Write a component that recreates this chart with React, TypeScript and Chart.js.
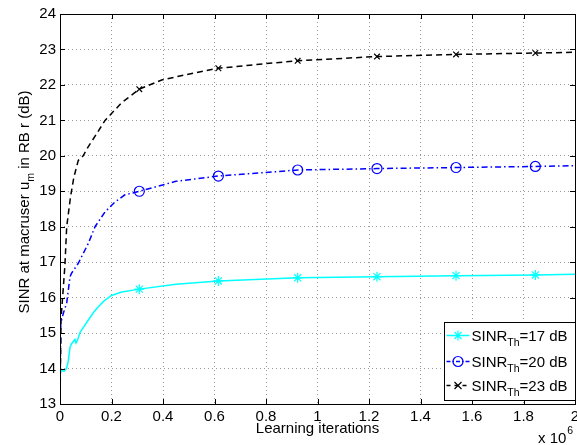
import React, { useEffect, useRef } from "react";
import { Chart, registerables } from "chart.js";

Chart.register(...registerables);

// ---- Data ----
const markerX = [0.308, 0.615, 0.923, 1.231, 1.538, 1.846];

const cyanX = [0, 0.005, 0.015, 0.025, 0.032, 0.039, 0.045, 0.058, 0.062, 0.068, 0.078, 0.11, 0.13, 0.149, 0.17, 0.2, 0.24, 0.308, 0.45, 0.615, 0.923, 1.231, 1.538, 1.846, 2.0];
const cyanY = [13.85, 13.95, 13.92, 14.0, 14.2, 14.6, 14.7, 14.82, 14.72, 14.8, 15.02, 15.37, 15.58, 15.74, 15.9, 16.06, 16.16, 16.24, 16.38, 16.47, 16.56, 16.59, 16.62, 16.64, 16.66];

const blueX = [0, 0.002, 0.003, 0.013, 0.026, 0.039, 0.045, 0.071, 0.11, 0.136, 0.175, 0.214, 0.252, 0.308, 0.45, 0.615, 0.923, 1.231, 1.538, 1.846, 2.0];
const blueY = [13.2, 14.6, 15.28, 15.56, 15.85, 16.59, 16.69, 16.97, 17.53, 18.0, 18.42, 18.7, 18.9, 19.0, 19.28, 19.43, 19.6, 19.64, 19.67, 19.7, 19.72];

const blackX = [0, 0.004, 0.019, 0.026, 0.041, 0.054, 0.071, 0.09, 0.11, 0.143, 0.175, 0.24, 0.308, 0.395, 0.563, 0.615, 0.8, 0.923, 1.1, 1.231, 1.538, 1.846, 2.0];
const blackY = [13.0, 15.4, 16.9, 18.0, 18.85, 19.4, 19.87, 20.0, 20.26, 20.63, 21.0, 21.5, 21.88, 22.14, 22.4, 22.47, 22.6, 22.68, 22.75, 22.8, 22.86, 22.9, 22.92];

const thresholds = ["17", "20", "23"];
const xTickValues = [0, 0.2, 0.4, 0.6, 0.8, 1, 1.2, 1.4, 1.6, 1.8, 2];
const yTickValues = [13, 14, 15, 16, 17, 18, 19, 20, 21, 22, 23, 24];

const FONT = "'Liberation Sans', Arial, Helvetica, sans-serif";

const seriesStyles = [
  { color: "#00ffff", dash: [] as number[], marker: "star" },
  { color: "#0000ff", dash: [6, 3, 1.5, 3], marker: "circle" },
  { color: "#000000", dash: [6, 4], marker: "crossRot" },
];

const isMarker = (x: number) => markerX.some((m) => Math.abs(m - x) < 1e-6);

function drawMarker(ctx: CanvasRenderingContext2D, kind: string, x: number, y: number, color: string) {
  ctx.save();
  ctx.strokeStyle = color;
  ctx.lineWidth = 1.2;
  ctx.setLineDash([]);
  ctx.beginPath();
  if (kind === "circle") {
    ctx.arc(x, y, 5, 0, Math.PI * 2);
  } else if (kind === "crossRot") {
    const r = 3.5;
    ctx.moveTo(x - r, y - r); ctx.lineTo(x + r, y + r);
    ctx.moveTo(x - r, y + r); ctx.lineTo(x + r, y - r);
  } else {
    const r = 5;
    const d = r * 0.707;
    ctx.moveTo(x - r, y); ctx.lineTo(x + r, y);
    ctx.moveTo(x, y - r); ctx.lineTo(x, y + r);
    ctx.moveTo(x - d, y - d); ctx.lineTo(x + d, y + d);
    ctx.moveTo(x - d, y + d); ctx.lineTo(x + d, y - d);
  }
  ctx.stroke();
  ctx.restore();
}

const framePlugin = {
  id: "frame",
  afterDraw(chart: any) {
    const ctx: CanvasRenderingContext2D = chart.ctx;
    const { left, right, top, bottom } = chart.chartArea;
    const xs = chart.scales.x;
    const ys = chart.scales.y;
    ctx.save();
    ctx.strokeStyle = "#000";
    ctx.lineWidth = 1;
    ctx.setLineDash([]);
    // inner ticks
    ctx.beginPath();
    const tl = 5;
    xTickValues.forEach((v) => {
      const px = Math.round(xs.getPixelForValue(v)) + 0.5;
      ctx.moveTo(px, bottom); ctx.lineTo(px, bottom - tl);
      ctx.moveTo(px, top); ctx.lineTo(px, top + tl);
    });
    yTickValues.forEach((v) => {
      const py = Math.round(ys.getPixelForValue(v)) + 0.5;
      ctx.moveTo(left, py); ctx.lineTo(left + tl, py);
      ctx.moveTo(right, py); ctx.lineTo(right - tl, py);
    });
    ctx.stroke();
    // box
    ctx.strokeRect(Math.round(left) + 0.5, Math.round(top) + 0.5, Math.round(right - left), Math.round(bottom - top));

    // legend
    const bw = 131, bh = 78;
    const bx = Math.round(right) - bw + 0.5;
    const by = Math.round(bottom) - 4 - bh + 0.5;
    ctx.fillStyle = "#fff";
    ctx.fillRect(bx, by, bw, bh);
    ctx.strokeRect(bx, by, bw, bh);
    const rowY = [by + 13, by + 39, by + 63];
    seriesStyles.forEach((s, i) => {
      const yy = rowY[i];
      ctx.save();
      ctx.strokeStyle = s.color;
      ctx.lineWidth = 1.5;
      ctx.setLineDash(s.marker === "crossRot" ? [4, 4] : s.marker === "circle" ? [4, 2, 1.5, 2] : []);
      ctx.beginPath();
      ctx.moveTo(bx + 2, yy);
      ctx.lineTo(bx + 25, yy);
      ctx.stroke();
      ctx.restore();
      drawMarker(ctx, s.marker, bx + 13.5, yy, s.color);
      ctx.fillStyle = "#000";
      ctx.textBaseline = "alphabetic";
      ctx.textAlign = "left";
      let tx = bx + 27;
      const base = yy + 5;
      ctx.font = `15px ${FONT}`;
      ctx.fillText("SINR", tx, base);
      tx += ctx.measureText("SINR").width;
      ctx.font = `10.5px ${FONT}`;
      ctx.fillText("Th", tx, base + 5);
      tx += ctx.measureText("Th").width;
      ctx.font = `15px ${FONT}`;
      ctx.fillText(`=${thresholds[i]} dB`, tx, base);
    });

    // x title
    ctx.fillStyle = "#000";
    ctx.font = `15px ${FONT}`;
    ctx.textAlign = "center";
    ctx.fillText("Learning iterations", (left + right) / 2, 433);
    // exponent
    ctx.textAlign = "left";
    ctx.font = `15px ${FONT}`;
    ctx.fillText("x 10", 538, 443);
    const w = ctx.measureText("x 10").width;
    ctx.font = `10.5px ${FONT}`;
    ctx.fillText("6", 538 + w + 1, 434);

    // y title (rotated)
    ctx.save();
    ctx.translate(29, 202);
    ctx.rotate(-Math.PI / 2);
    const p1 = "SINR at macruser u";
    const p2 = "m";
    const p3 = " in RB r (dB)";
    ctx.font = `15px ${FONT}`;
    const w1 = ctx.measureText(p1).width;
    const w3 = ctx.measureText(p3).width;
    ctx.font = `10.5px ${FONT}`;
    const w2 = ctx.measureText(p2).width;
    const total = w1 + w2 + w3;
    let sx = -total / 2;
    ctx.textAlign = "left";
    ctx.font = `15px ${FONT}`;
    ctx.fillText(p1, sx, 0);
    sx += w1;
    ctx.font = `10.5px ${FONT}`;
    ctx.fillText(p2, sx, 5);
    sx += w2;
    ctx.font = `15px ${FONT}`;
    ctx.fillText(p3, sx, 0);
    ctx.restore();

    ctx.restore();
  },
};

function buildData(xs: number[], ys: number[]) {
  return xs.map((x, i) => ({ x, y: ys[i] }));
}

export default function App() {
  const ref = useRef<HTMLCanvasElement | null>(null);
  useEffect(() => {
    document.body.style.margin = "0";
    const canvas = ref.current!;
    const seriesData = [buildData(cyanX, cyanY), buildData(blueX, blueY), buildData(blackX, blackY)];
    const chart = new Chart(canvas, {
      type: "line",
      data: {
        datasets: seriesStyles.map((s, i) => ({
          label: `SINR_Th=${thresholds[i]} dB`,
          data: seriesData[i],
          borderColor: s.color,
          borderWidth: 1.5,
          borderDash: s.dash,
          pointStyle: s.marker as any,
          pointBorderColor: s.color,
          pointBackgroundColor: "transparent",
          pointBorderWidth: 1.2,
          pointRadius: (c: any) => (isMarker(c.raw?.x) ? (s.marker === "crossRot" ? 4 : 5) : 0),
          pointHoverRadius: 0,
          tension: 0,
          fill: false,
        })),
      },
      options: {
        animation: false,
        responsive: false,
        devicePixelRatio: 1,
        events: [],
        layout: { padding: { left: 0, right: 2, top: 14, bottom: 0 } },
        plugins: { legend: { display: false }, tooltip: { enabled: false } },
        scales: {
          x: {
            type: "linear",
            min: 0,
            max: 2,
            afterFit: (s: any) => { s.height = 41; s.paddingLeft = 0; s.paddingRight = 0; },
            afterBuildTicks: (s: any) => { s.ticks = xTickValues.map((v) => ({ value: v })); },
            ticks: {
              color: "#000",
              font: { family: FONT, size: 15 },
              padding: 4,
              maxRotation: 0,
              autoSkip: false,
              callback: (v: any) => String(Number(Number(v).toFixed(1))),
            },
            grid: { color: "#9a9a9a", lineWidth: 1, drawTicks: false },
            border: { display: false, dash: [1, 3] },
          },
          y: {
            type: "linear",
            min: 13,
            max: 24,
            afterFit: (s: any) => { s.width = 60; s.paddingTop = 0; s.paddingBottom = 0; },
            afterBuildTicks: (s: any) => { s.ticks = yTickValues.map((v) => ({ value: v })); },
            ticks: {
              color: "#000",
              font: { family: FONT, size: 15 },
              padding: 4,
              autoSkip: false,
              callback: (v: any) => String(v),
            },
            grid: { color: "#9a9a9a", lineWidth: 1, drawTicks: false },
            border: { display: false, dash: [1, 3] },
          },
        },
      },
      plugins: [framePlugin],
    });
    return () => chart.destroy();
  }, []);
  return (
    <div style={{ width: 577, height: 445 }}>
      <canvas ref={ref} width={577} height={445} style={{ display: "block" }} />
    </div>
  );
}
